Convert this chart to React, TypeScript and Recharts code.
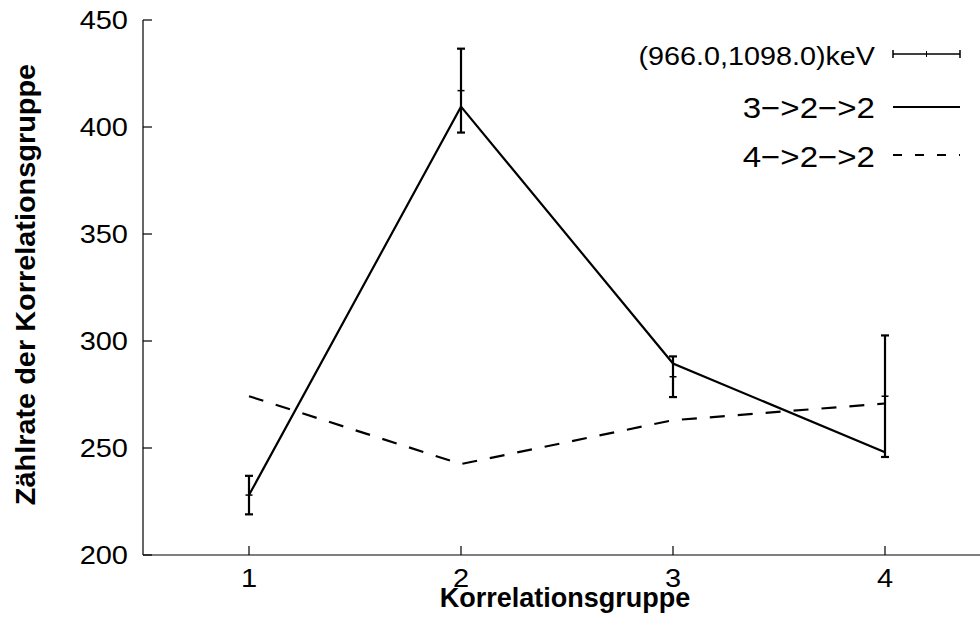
import React from 'react'
import {
  ComposedChart,
  Line,
  Scatter,
  ErrorBar,
  XAxis,
  YAxis,
  Legend,
  Label,
} from 'recharts'

const groups = [1, 2, 3, 4]
const measured = [228, 417, 283.3, 274.2]
const measuredErr = [9, 19.6, 9.5, 28.4]
const fit322 = [228, 409.5, 289.5, 248]
const fit422 = [274.2, 242.5, 263, 270.8]

const xTicks = [1, 2, 3, 4]
const yTicks = [200, 250, 300, 350, 400, 450]
const legendLabels = ['(966.0,1098.0)keV', '3\u2212>2\u2212>2', '4\u2212>2\u2212>2']

const data = groups.map((g, i) => ({
  group: g,
  measured: measured[i],
  err: measuredErr[i],
  fit322: fit322[i],
  fit422: fit422[i],
}))

const FONT = '"Liberation Sans", Arial, Helvetica, sans-serif'

const BottomTick = (props: any) => {
  const { x, y, payload } = props
  return (
    <g>
      <line x1={x} x2={x} y1={y} y2={y - 9} stroke="#000" strokeWidth={1.2} />
      <text
        transform={`translate(${x} ${y + 32}) scale(1.16 1)`}
        textAnchor="middle"
        fontFamily={FONT}
        fontSize={25}
        fill="#000"
      >
        {payload.value}
      </text>
    </g>
  )
}

const TopTick = (props: any) => {
  const { x, y } = props
  return <line x1={x} x2={x} y1={y} y2={y + 9} stroke="#000" strokeWidth={1.2} />
}

const LeftTick = (props: any) => {
  const { x, y, payload } = props
  return (
    <g>
      <line x1={x} x2={x + 9} y1={y} y2={y} stroke="#000" strokeWidth={1.2} />
      <text
        transform={`translate(${x - 15} ${y + 9}) scale(1.16 1)`}
        textAnchor="end"
        fontFamily={FONT}
        fontSize={25}
        fill="#000"
      >
        {payload.value}
      </text>
    </g>
  )
}

const XTitle = (props: any) => {
  const vb = props.viewBox
  return (
    <text
      x={vb.x + vb.width / 2 - 2}
      y={vb.y + 52}
      textAnchor="middle"
      fontFamily={FONT}
      fontSize={27}
      fontWeight="bold"
      fill="#000"
    >
      Korrelationsgruppe
    </text>
  )
}

const YTitle = (props: any) => {
  const vb = props.viewBox
  return (
    <text
      transform={`translate(35 ${vb.y + vb.height / 2 - 3}) rotate(-90) scale(1.07 1)`}
      textAnchor="middle"
      fontFamily={FONT}
      fontSize={27}
      fontWeight="bold"
      fill="#000"
    >
      Zählrate der Korrelationsgruppe
    </text>
  )
}

const TickMark = (props: any) => {
  const { cx, cy } = props
  return <line x1={cx - 3.5} x2={cx + 3.5} y1={cy} y2={cy} stroke="#000" strokeWidth={1.5} />
}

const LegendBox = () => {
  const x1 = 893
  const x2 = 960
  const textRight = 875
  const rows = [54, 107, 155]
  return (
    <svg width={1020} height={625} style={{ position: 'absolute', left: 0, top: 0 }}>
      <text
        transform={`translate(${textRight} ${rows[0] + 11}) scale(1.15 1)`}
        textAnchor="end"
        fontFamily={FONT}
        fontSize={25}
      >
        {legendLabels[0]}
      </text>
      <line x1={x1} x2={x2} y1={rows[0]} y2={rows[0]} stroke="#000" strokeWidth={1.5} />
      <line x1={x1} x2={x1} y1={rows[0] - 4} y2={rows[0] + 4} stroke="#000" strokeWidth={1.5} />
      <line x1={x2} x2={x2} y1={rows[0] - 4} y2={rows[0] + 4} stroke="#000" strokeWidth={1.5} />
      <line x1={(x1 + x2) / 2} x2={(x1 + x2) / 2} y1={rows[0] - 3} y2={rows[0] + 3} stroke="#000" strokeWidth={1} />

      <text
        transform={`translate(${textRight} ${rows[1] + 11}) scale(1.14 1)`}
        textAnchor="end"
        fontFamily={FONT}
        fontSize={29}
      >
        {legendLabels[1]}
      </text>
      <line x1={x1} x2={x2} y1={rows[1]} y2={rows[1]} stroke="#000" strokeWidth={2} />

      <text
        transform={`translate(${textRight} ${rows[2] + 11.5}) scale(1.14 1)`}
        textAnchor="end"
        fontFamily={FONT}
        fontSize={29}
      >
        {legendLabels[2]}
      </text>
      <line x1={x1} x2={x2} y1={rows[2]} y2={rows[2]} stroke="#000" strokeWidth={2} strokeDasharray="9 13" />
    </svg>
  )
}

export default function App() {
  return (
    <div
      style={{
        position: 'absolute',
        left: 0,
        top: 0,
        width: 980,
        height: 625,
        overflow: 'hidden',
        background: '#fff',
      }}
    >
      <ComposedChart
        width={1020}
        height={625}
        data={data}
        margin={{ top: 20, right: 29, bottom: 0, left: 0 }}
      >
        <XAxis
          dataKey="group"
          type="number"
          domain={[0.5, 4.5]}
          ticks={xTicks}
          tick={<BottomTick />}
          tickLine={false}
          tickSize={0}
          tickMargin={0}
          height={70}
          axisLine={{ stroke: '#000', strokeWidth: 1.2 }}
        >
          <Label content={<XTitle />} />
        </XAxis>
        <XAxis
          xAxisId="top"
          orientation="top"
          dataKey="group"
          type="number"
          domain={[0.5, 4.5]}
          ticks={xTicks}
          tick={<TopTick />}
          tickLine={false}
          tickSize={0}
          tickMargin={0}
          height={0}
          axisLine={{ stroke: '#000', strokeWidth: 1.2 }}
        />
        <YAxis
          type="number"
          domain={[200, 450]}
          ticks={yTicks}
          tick={<LeftTick />}
          tickLine={false}
          tickSize={0}
          tickMargin={0}
          width={143}
          axisLine={{ stroke: '#000', strokeWidth: 1.2 }}
        >
          <Label content={<YTitle />} />
        </YAxis>
        <Legend
          layout="vertical"
          align="center"
          verticalAlign="middle"
          content={<LegendBox />}
          wrapperStyle={{ position: 'absolute', left: 0, top: 0, width: 1020, height: 625 }}
        />
        <Line
          dataKey="fit322"
          stroke="#000"
          strokeWidth={2.2}
          dot={false}
          activeDot={false}
          isAnimationActive={false}
        />
        <Line
          dataKey="fit422"
          stroke="#000"
          strokeWidth={2.2}
          strokeDasharray="15 13"
          dot={false}
          activeDot={false}
          isAnimationActive={false}
        />
        <Scatter dataKey="measured" shape={<TickMark />} isAnimationActive={false}>
          <ErrorBar dataKey="err" direction="y" width={4} stroke="#000" strokeWidth={2.2} isAnimationActive={false} />
        </Scatter>
      </ComposedChart>
    </div>
  )
}
